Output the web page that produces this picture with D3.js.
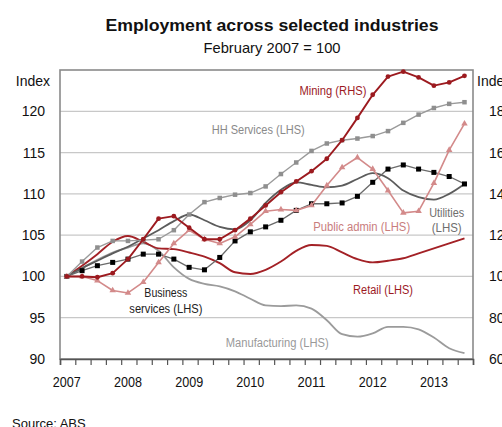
<!DOCTYPE html>
<html>
<head>
<meta charset="utf-8">
<script src="https://cdn.jsdelivr.net/npm/d3@7"></script>
<style>
  html, body { margin: 0; padding: 0; background: #fff; }
  svg { display: block; }
  text { font-family: "Liberation Sans Narrow", "Liberation Sans", Arial, sans-serif; }
</style>
</head>
<body>
<svg id="chart" width="502" height="427"></svg>
<script>
// Quarterly observations, February 2007 to August 2013 (Feb, May, Aug, Nov)
const quarters = [
  "2007-02","2007-05","2007-08","2007-11",
  "2008-02","2008-05","2008-08","2008-11",
  "2009-02","2009-05","2009-08","2009-11",
  "2010-02","2010-05","2010-08","2010-11",
  "2011-02","2011-05","2011-08","2011-11",
  "2012-02","2012-05","2012-08","2012-11",
  "2013-02","2013-05","2013-08"
];

// Index, February 2007 = 100
const mining = [100,100,99.6,101.6,108.4,118,128,129.2,123.6,118,118,122.4,128,134.4,140.8,146,151,157,166,176.8,188,196.8,199.2,196.4,192.4,194,197.2]; // RHS
const hhServices = [100,101.8,103.5,104.3,104.3,104.4,104.5,105.6,107.5,109.0,109.5,109.9,110.1,110.9,112.4,113.8,115.2,116.1,116.5,116.7,117.0,117.6,118.6,119.6,120.4,120.9,121.1];
const publicAdmin = [100,100,99.5,98.3,98.0,99.3,101.7,104.0,105.6,104.5,104.0,104.8,106.3,107.9,108.1,108.0,108.6,111.0,113.2,114.4,113.0,110.4,107.7,107.9,111.3,115.3,118.5];
const utilities = [100,101.0,101.9,102.8,103.6,104.6,105.6,106.7,107.5,106.8,106.0,105.7,106.8,108.9,110.5,111.4,111.1,110.8,111.0,111.8,112.5,111.9,110.4,109.6,109.3,110.0,111.2];
const businessServices = [100,100.7,101.3,101.7,102.1,102.7,102.7,102.1,101.1,100.8,102.3,104.3,105.4,106.0,106.8,108.0,108.8,108.8,108.9,109.7,111.4,113.0,113.5,113.0,112.6,112.1,111.2];
const retail = [100,101.3,102.7,104.2,104.9,104.2,103.4,103.3,102.9,102.4,101.6,100.5,100.3,100.8,101.8,103.1,103.8,103.7,102.9,102.1,101.7,101.9,102.2,102.8,103.4,104.0,104.6];
const manufacturing = [100,101.0,102.0,102.9,103.5,104.0,103.1,101.1,99.7,99.1,98.8,98.2,97.3,96.5,96.4,96.5,96.1,94.7,93.0,92.7,93.1,93.9,93.9,93.6,92.6,91.3,90.7];

const yearLabels = ["2007","2008","2009","2010","2011","2012","2013"];
const leftTicks = [90,95,100,105,110,115,120];
const rightTicks = [60,80,100,120,140,160,180];
const gridValues = [95,100,105,110,115,120];

const svg = d3.select("#chart");
const plot = {left: 60, right: 473, top: 70, bottom: 359};

// decimal year of a "YYYY-MM" observation (observed around the 10th of the month)
const toYear = s => +s.slice(0,4) + (+s.slice(5,7) - 1 + 0.33) / 12;
const tq = quarters.map(toYear);

const x = d3.scaleLinear().domain([2007, 2013.75]).range([plot.left, plot.right]);
const yL = d3.scaleLinear().domain([90, 125]).range([plot.bottom, plot.top]);
const yR = d3.scaleLinear().domain([60, 200]).range([plot.bottom, plot.top]);

// Title
svg.append("text").attr("x", 272).attr("y", 31).attr("text-anchor", "middle")
  .attr("font-size", 17).attr("font-weight", "bold").attr("fill", "#111")
  .attr("textLength", 333).attr("lengthAdjust", "spacingAndGlyphs")
  .text("Employment across selected industries");
svg.append("text").attr("x", 272).attr("y", 53).attr("text-anchor", "middle")
  .attr("font-size", 14.5).attr("fill", "#111")
  .attr("textLength", 137).attr("lengthAdjust", "spacingAndGlyphs")
  .text("February 2007 = 100");

// Gridlines
svg.append("g").selectAll("line").data(gridValues).join("line")
  .attr("x1", plot.left).attr("x2", plot.right)
  .attr("y1", d => yL(d)).attr("y2", d => yL(d))
  .attr("stroke", "#c8c8c8").attr("stroke-width", 1.2);

// Plot frame
svg.append("rect").attr("x", plot.left).attr("y", plot.top)
  .attr("width", plot.right - plot.left).attr("height", plot.bottom - plot.top)
  .attr("fill", "none").attr("stroke", "#8a8a8a").attr("stroke-width", 1.6);

// Bottom axis with quarterly ticks
const qTicks = d3.range(0, 28).map(i => 2007 + i * 0.25);
const xAxis = d3.axisBottom(x).tickValues(qTicks).tickSize(6).tickFormat("");
const gx = svg.append("g").attr("transform", `translate(0,${plot.bottom})`).call(xAxis);
gx.select(".domain").attr("stroke", "#555").attr("stroke-width", 1.6);
gx.selectAll(".tick line").attr("stroke", "#555").attr("stroke-width", 1.2);

svg.append("g").selectAll("text").data(yearLabels).join("text")
  .attr("x", d => x(toYear(d + "-02"))).attr("y", 387)
  .attr("text-anchor", "middle").attr("font-size", 14).attr("fill", "#111")
  .attr("textLength", 28).attr("lengthAdjust", "spacingAndGlyphs")
  .text(d => d);

// Left axis labels
svg.append("g").selectAll("text").data(leftTicks).join("text")
  .attr("x", 45).attr("y", d => yL(d) + 5)
  .attr("text-anchor", "end").attr("font-size", 14).attr("fill", "#111")
  .text(d => d);
svg.append("text").attr("x", 50).attr("y", 86).attr("text-anchor", "end")
  .attr("font-size", 14).attr("fill", "#111").text("Index");

// Right axis labels
svg.append("g").selectAll("text").data(rightTicks).join("text")
  .attr("x", 489).attr("y", d => yR(d) + 5)
  .attr("text-anchor", "start").attr("font-size", 14).attr("fill", "#111")
  .text(d => d);
svg.append("text").attr("x", 477).attr("y", 86).attr("text-anchor", "start")
  .attr("font-size", 14).attr("fill", "#111").text("Index");

// Series
const series = [
  {name: "Manufacturing", values: manufacturing, y: yL, color: "#9b9b9b", width: 1.8, curve: d3.curveMonotoneX, marker: null},
  {name: "Retail", values: retail, y: yL, color: "#a32126", width: 1.9, curve: d3.curveMonotoneX, marker: null},
  {name: "Utilities", values: utilities, y: yL, color: "#5c5c5c", width: 1.8, curve: d3.curveMonotoneX, marker: null},
  {name: "Business services", values: businessServices, y: yL, color: "#6a6a6a", width: 1.3, curve: d3.curveLinear, marker: "square", markerColor: "#000", size: 5},
  {name: "Public admin", values: publicAdmin, y: yL, color: "#d38a8a", width: 1.6, curve: d3.curveLinear, marker: "triangle", markerColor: "#d38a8a", size: 4.5},
  {name: "HH Services", values: hhServices, y: yL, color: "#9a9a9a", width: 1.4, curve: d3.curveLinear, marker: "square", markerColor: "#8f8f8f", size: 4.5},
  {name: "Mining", values: mining, y: yR, color: "#9c1a1f", width: 1.9, curve: d3.curveLinear, marker: "circle", markerColor: "#9c1a1f", size: 2.4}
];

const gSeries = svg.append("g");
series.forEach(s => {
  const line = d3.line().x((d, i) => x(tq[i])).y(d => s.y(d)).curve(s.curve);
  gSeries.append("path").datum(s.values).attr("d", line)
    .attr("fill", "none").attr("stroke", s.color).attr("stroke-width", s.width)
    .attr("stroke-linejoin", "round");
  if (s.marker === "square") {
    gSeries.append("g").selectAll("rect").data(s.values).join("rect")
      .attr("x", (d, i) => x(tq[i]) - s.size / 2).attr("y", d => s.y(d) - s.size / 2)
      .attr("width", s.size).attr("height", s.size).attr("fill", s.markerColor);
  } else if (s.marker === "circle") {
    gSeries.append("g").selectAll("circle").data(s.values).join("circle")
      .attr("cx", (d, i) => x(tq[i])).attr("cy", d => s.y(d)).attr("r", s.size)
      .attr("fill", s.markerColor);
  } else if (s.marker === "triangle") {
    const tri = d3.symbol().type(d3.symbolTriangle).size(s.size * s.size * 0.9);
    gSeries.append("g").selectAll("path").data(s.values).join("path")
      .attr("d", tri)
      .attr("transform", (d, i) => `translate(${x(tq[i])},${s.y(d)})`)
      .attr("fill", s.markerColor);
  }
});

// Series labels, placed in chart coordinates (decimal year, LHS index), with line widths in px
const labels = [
  {lines: ["Mining (RHS)"], widths: [67], t: 2011.46, v: 122.0, color: "#9c1a1f"},
  {lines: ["HH Services (LHS)"], widths: [93], t: 2010.24, v: 117.25, color: "#8a8a8a"},
  {lines: ["Public admin (LHS)"], widths: [97], t: 2011.93, v: 105.5, color: "#c97d7d"},
  {lines: ["Utilities", "(LHS)"], widths: [35, 30], t: 2013.32, v: 107.2, color: "#6e6e6e"},
  {lines: ["Business", "services (LHS)"], widths: [43, 73], t: 2008.73, v: 97.5, color: "#222"},
  {lines: ["Retail (LHS)"], widths: [60], t: 2012.28, v: 97.87, color: "#9c1a1f"},
  {lines: ["Manufacturing (LHS)"], widths: [103], t: 2010.55, v: 91.45, color: "#999"}
];
const gLab = svg.append("g");
labels.forEach(l => {
  l.lines.forEach((ln, i) => {
    gLab.append("text").attr("text-anchor", "middle")
      .attr("font-size", 12.5).attr("fill", l.color)
      .attr("x", x(l.t)).attr("y", yL(l.v) + i * 15.5)
      .attr("textLength", l.widths[i]).attr("lengthAdjust", "spacingAndGlyphs")
      .text(ln);
  });
});

// Source note
svg.append("text").attr("x", 12).attr("y", 428).attr("font-size", 13)
  .attr("fill", "#111").text("Source: ABS");
</script>
</body>
</html>
